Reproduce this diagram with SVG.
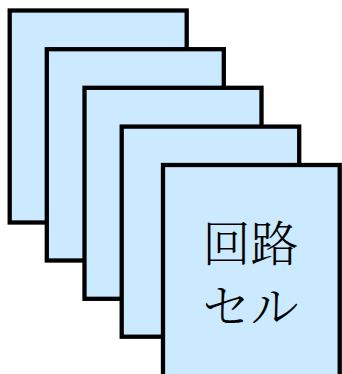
<svg xmlns="http://www.w3.org/2000/svg" width="342" height="374" viewBox="0 0 342 374">
<style>
.card{fill:#cceaff;stroke:#000;stroke-width:4.3}
.lbl{font-family:"Noto Serif CJK JP","Noto Sans CJK JP",serif;font-size:48px;fill:#000;text-anchor:middle;dominant-baseline:central;font-weight:300}
</style>
<rect width="342" height="374" fill="#fff"/>
<g id="card1"><rect class="card" x="9.7" y="10.5" width="177" height="212"/></g>
<g id="card2"><rect class="card" x="46.8" y="49.2" width="177" height="211.3"/></g>
<g id="card3"><rect class="card" x="84.5" y="87.8" width="177" height="211"/></g>
<g id="card4"><rect class="card" x="121.7" y="126.6" width="177.5" height="210.1"/></g>
<g id="card5"><rect class="card" x="163" y="165" width="176.7" height="212"/>
<text class="lbl" x="250.5" y="240">回路</text>
<text class="lbl" x="250.5" y="303">セル</text></g>
<g id="connectors"/>
</svg>
